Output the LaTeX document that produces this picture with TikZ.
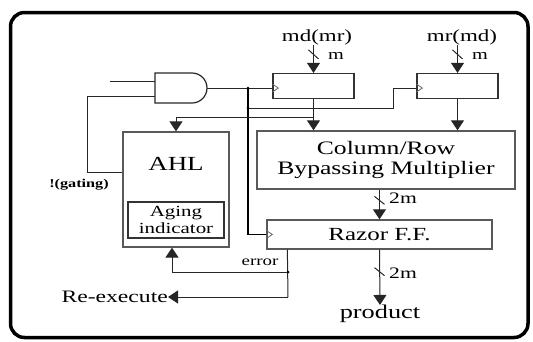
\documentclass[tikz,border=0pt]{standalone}
\usepackage{fontspec}
\setmainfont{Liberation Serif}[FakeStretch=1.35]
\usetikzlibrary{arrows.meta,calc}
\begin{document}
\begin{tikzpicture}[x=1pt,y=-1pt,
  box/.style={draw=black!65,line width=1.3pt,fill=white,inner sep=0pt,text=black},
  ffbox/.style={draw=black!80,line width=1.2pt,inner sep=0pt,minimum width=81pt,minimum height=25pt},
  wire/.style={draw=black!85,line width=1pt},
  arr/.style={wire,-{Triangle[length=10pt,width=13pt]}},
  lbl/.style={text=black,inner sep=0pt},
  jdot/.style={circle,fill=black,inner sep=0pt,minimum size=3pt},
  clk/.style={draw=black!60,line width=0.8pt}]
\useasboundingbox (0,0) rectangle (533,341);
\draw[line width=3.5pt,rounded corners=14pt] (10.5,12.5) rectangle (528,337.5);

% AND gate
\draw[draw=black!85,line width=1.2pt] (155,73) -- (192,73) arc[start angle=-90,end angle=90,radius=15] -- (155,103) -- cycle;
\coordinate (andin1) at (155,81);
\coordinate (andin2) at (155,96);
\coordinate (andout) at (207,88);
\coordinate (in1) at (110,81);

% flip-flops
\node[ffbox] (ff1) at (313.5,86) {};
\node[ffbox] (ff2) at (457.5,86) {};

% multiplier
\node[box,minimum width=258pt,minimum height=58pt,align=center,font=\fontsize{19}{20}\selectfont] (mult) at (386,160) {Column/Row\\Bypassing Multiplier};

% AHL
\node[box,minimum width=106pt,minimum height=115pt] (ahl) at (176,189.5) {};
\node[lbl,font=\fontsize{20}{22}\selectfont] (ahlt) at (176,164) {AHL};
\node[draw=black!80,line width=1.8pt,minimum width=96pt,minimum height=36pt,align=center,inner sep=0pt,text=black,font=\fontsize{15.5}{17}\selectfont] (aging) at (176,220) {Aging\\indicator};

% Razor
\node[box,minimum width=225pt,minimum height=29pt,font=\fontsize{18.5}{20}\selectfont] (razor) at (379.5,234.5) {Razor F.F.};

% labels
\node[lbl,font=\fontsize{17}{19}\selectfont] (mdmr) at (317,37) {md(mr)};
\node[lbl,font=\fontsize{17}{19}\selectfont] (mrmd) at (462,37) {mr(md)};
\node[lbl,font=\fontsize{15}{17}\selectfont] (m1) at (336,56) {m};
\node[lbl,font=\fontsize{15}{17}\selectfont] (m2) at (480,56) {m};
\node[lbl,font=\fontsize{16}{18}\selectfont] (tm1) at (403,198) {2m};
\node[lbl,font=\fontsize{16}{18}\selectfont] (tm2) at (403,273) {2m};
\node[lbl,font=\fontsize{19.5}{21}\selectfont] (prod) at (380,314) {product};
\node[lbl,anchor=east,font=\fontsize{17.5}{19}\selectfont] (reex) at (168,297) {Re-execute};
\node[lbl,font=\fontsize{14}{16}\selectfont] (err) at (260,262) {error};
\node[lbl,font=\bfseries\fontsize{12}{14}\selectfont] (gat) at (79,185) {!(gating)};

% inputs
\draw[arr] (ff1.north |- mdmr.south) -- (ff1.north);
\draw[arr] (ff2.north |- mrmd.south) -- (ff2.north);
\draw[wire] ($(ff1.north)+(-5,-23)$) -- ++(10,9);
\draw[wire] ($(ff2.north)+(-5,-23)$) -- ++(10,9);

% gate wiring
\draw[wire] (in1) -- (andin1);
\coordinate (g2) at (87,172);
\draw[wire] (andin2) -| (g2) -- (ahl.west |- g2);
\coordinate (j1) at (248,88);
\coordinate (j2) at (248,108);
\coordinate (bend) at (393,108);
\draw[wire] (andout) -- (ff1.west |- andout);
\draw[wire,line width=1.6pt,draw=black] (j1) |- (razor.west);
\draw[wire] (j2) -- (bend) |- (ff2.west |- andout);
\node[jdot] at (j1) {};
\node[jdot] at (j2) {};

% clock marks
\draw[clk] ($(ff1.west |- andout)+(0,-4)$) -- ++(6,4) -- ++(-6,4);
\draw[clk] ($(ff2.west |- andout)+(0,-4)$) -- ++(6,4) -- ++(-6,4);
\draw[clk] ($(razor.west)+(0,-4)$) -- ++(6,4) -- ++(-6,4);

% FF outputs
\draw[arr] (ff1.south) -- (ff1.south |- mult.north);
\draw[arr] (ff2.south) -- (ff2.south |- mult.north);
\coordinate (b1) at (313.5,117);
\draw[arr] (b1) -| (ahl.north);

% multiplier to razor
\draw[arr] (razor.north |- mult.south) -- (razor.north);
\draw[wire] ($(razor.north)+(-5,-23)$) -- ++(10,8);
\draw[arr] (razor.south) -- (prod.north);
\draw[wire] ($(razor.south)+(-5,18)$) -- ++(10,8);

% error
\coordinate (e0) at ($(razor.south west)+(21,0)$);
\coordinate (e1) at (288,272);
\coordinate (e2) at (288,297);
\draw[wire] (e0) -- (e2);
\draw[arr] (e2) -- (reex.east);
\draw[arr] (e1) -| ([xshift=-4pt]ahl.south);
\node[jdot] at (e1) {};
\end{tikzpicture}
\end{document}
